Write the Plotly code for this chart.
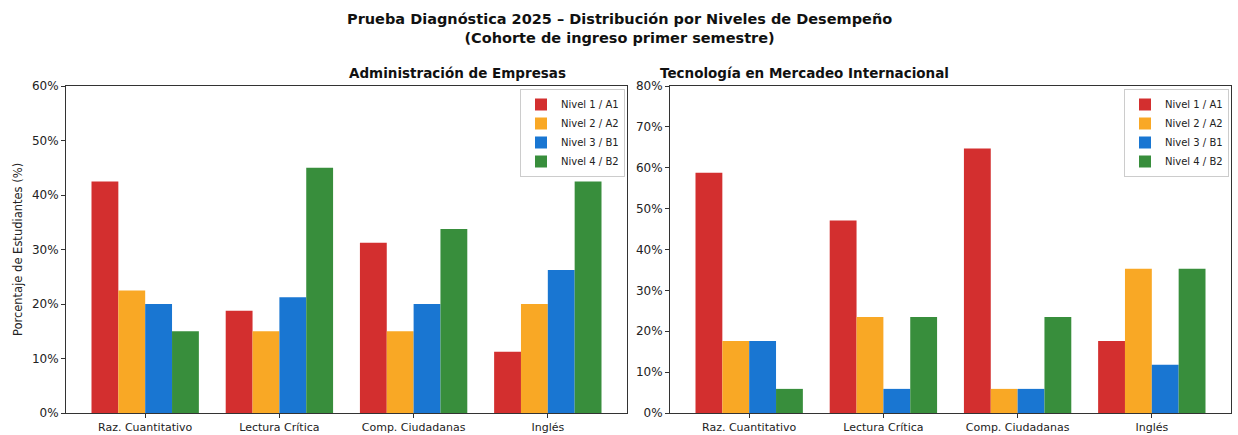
import plotly.graph_objects as go

categories = ["Raz. Cuantitativo", "Lectura Crítica", "Comp. Ciudadanas", "Inglés"]
levels = ["Nivel 1 / A1", "Nivel 2 / A2", "Nivel 3 / B1", "Nivel 4 / B2"]
colors = ["#d32f2f", "#f9a825", "#1976d2", "#388e3c"]

adm_n1 = [42.5, 18.75, 31.25, 11.25]
adm_n2 = [22.5, 15.0, 15.0, 20.0]
adm_n3 = [20.0, 21.25, 20.0, 26.25]
adm_n4 = [15.0, 45.0, 33.75, 42.5]

tec_n1 = [58.8, 47.1, 64.7, 17.6]
tec_n2 = [17.6, 23.5, 5.9, 35.3]
tec_n3 = [17.6, 5.9, 5.9, 11.8]
tec_n4 = [5.9, 23.5, 23.5, 35.3]

adm = [adm_n1, adm_n2, adm_n3, adm_n4]
tec = [tec_n1, tec_n2, tec_n3, tec_n4]

FONT = "DejaVu Sans"
W, H = 1238, 435
fig = go.Figure()

for i in range(4):
    fig.add_trace(go.Bar(x=categories, y=adm[i], name=levels[i], marker_color=colors[i],
                         marker_line_width=0, xaxis="x", yaxis="y", legend="legend",
                         offsetgroup=str(i)))
for i in range(4):
    fig.add_trace(go.Bar(x=categories, y=tec[i], name=levels[i], marker_color=colors[i],
                         marker_line_width=0, xaxis="x2", yaxis="y2", legend="legend2",
                         offsetgroup=str(i)))

axis_common = dict(showline=True, linecolor="#333", linewidth=1, mirror=True,
                   ticks="outside", ticklen=4, tickcolor="#333", showgrid=False,
                   zeroline=False, automargin=False)

xt = dict(family=FONT, size=11, color="#222")
yt = dict(family=FONT, size=12, color="#222")

def px(x):
    return x / W

def py(y):
    return 1 - y / H

leg_common = dict(xanchor="right", yanchor="top", xref="paper", yref="paper",
                  bordercolor="#ccc", borderwidth=1, bgcolor="rgba(255,255,255,0.8)",
                  font=dict(family=FONT, size=10), itemwidth=30, tracegroupgap=0)

fig.update_layout(
    width=W, height=H,
    margin=dict(l=0, r=0, t=0, b=0, autoexpand=False),
    paper_bgcolor="white", plot_bgcolor="white",
    barmode="group", bargap=0.2, bargroupgap=0,
    font=dict(family=FONT, color="#222"),
    xaxis=dict(domain=[px(66), px(627)], range=[-0.59, 3.59], anchor="y", tickfont=xt, **axis_common),
    yaxis=dict(domain=[py(413), py(86)], range=[0, 60], dtick=10, ticksuffix="%", anchor="x", tickfont=yt,
               title=dict(text="Porcentaje de Estudiantes (%)", font=dict(family=FONT, size=11.5), standoff=6),
               **axis_common),
    xaxis2=dict(domain=[px(670), px(1231)], range=[-0.59, 3.59], anchor="y2", tickfont=xt, **axis_common),
    yaxis2=dict(domain=[py(413), py(86)], range=[0, 80], dtick=10, ticksuffix="%", anchor="x2", tickfont=yt,
                **axis_common),
    legend=dict(x=px(625), y=py(89), **leg_common),
    legend2=dict(x=px(1229), y=py(89), **leg_common),
    annotations=[
        dict(text="<b>Prueba Diagnóstica 2025 – Distribución por Niveles de Desempeño<br>(Cohorte de ingreso primer semestre)</b>",
             x=0.5, y=py(29), xref="paper", yref="paper", showarrow=False, yanchor="middle",
             font=dict(family=FONT, size=14.5, color="#111")),
        dict(text="<b>Administración de Empresas</b>", x=px((66 + 627) / 2), y=py(73), yanchor="middle",
             xref="paper", yref="paper", showarrow=False, font=dict(family=FONT, size=13.5, color="#111")),
        dict(text="<b>Tecnología en Mercadeo Internacional</b>", x=px((670 + 1231) / 2), y=py(73), yanchor="middle",
             xref="paper", yref="paper", showarrow=False, font=dict(family=FONT, size=13.5, color="#111")),
    ],
)

fig.write_html("out.html", config={"displayModeBar": False},
               post_script="document.body.style.margin='0';document.body.style.overflow='hidden';")
